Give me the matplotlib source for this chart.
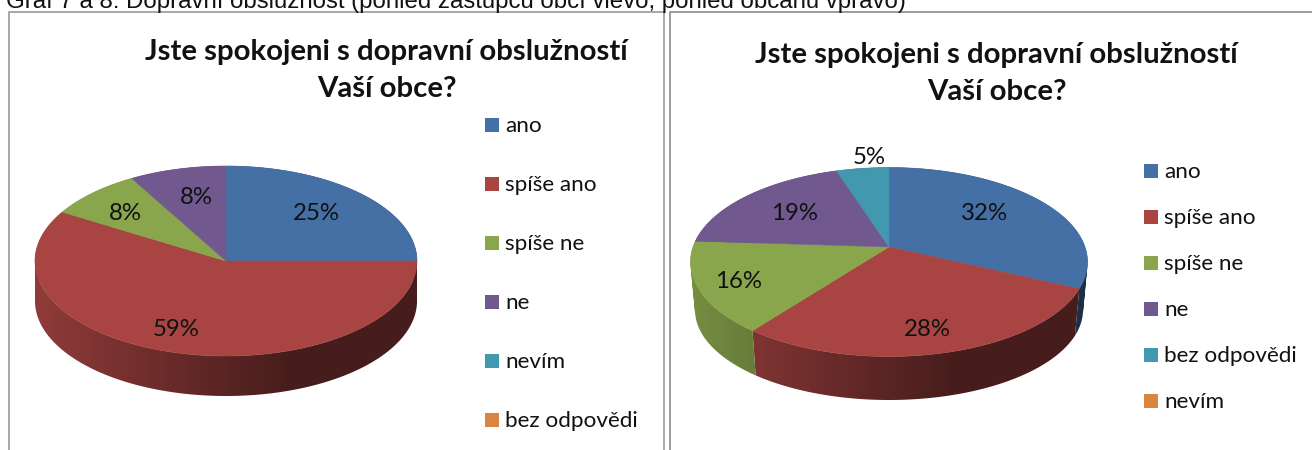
import numpy as np
import matplotlib
matplotlib.use('Agg')
import matplotlib.pyplot as plt
from matplotlib.colors import to_rgb
from matplotlib.patches import PathPatch
from matplotlib.path import Path

caption = 'Graf 7 a 8: Dopravní obslužnost (pohled zástupců obcí vlevo, pohled občanů vpravo)'
title = 'Jste spokojeni s dopravní obslužností\nVaší obce?'

left_labels = ['ano', 'spíše ano', 'spíše ne', 'ne', 'nevím', 'bez odpovědi']
left_values = [25, 58.6, 8.2, 8.2, 0, 0]
right_labels = ['ano', 'spíše ano', 'spíše ne', 'ne', 'bez odpovědi', 'nevím']
right_values = [32, 28.4, 15.6, 19, 5, 0]

left_colors = ['#4570A6', '#A84543', '#89A64C', '#71588F', '#4198AF', '#DB843D']
right_colors = ['#4570A6', '#A84543', '#89A64C', '#71588F', '#4198AF', '#DB843D']

plt.rcParams['font.family'] = ['Lato', 'DejaVu Sans']


# c moves the middle of the pie away from the middle of the ellipse (perspective)
def rim(t, cx, cy, rx, ry, c=0.0):
    u = np.sin(t)
    v = np.cos(t)
    d = 1 + c * v
    return cx + rx * u * np.sqrt(1 - c * c) / d, cy - ry * (v + c) / d


def side_shades(color, us):
    # side gets darker going right, flat from a bit past the middle
    f = np.interp(us, [-1, 0.33, 1], [0.86, 0.42, 0.42])
    return np.outer(f, np.array(to_rgb(color)))


def wall_path(xs, ys, xb, yb):
    # one quad per step, all turned the same way so overlaps do not cancel
    verts = []
    codes = []
    for j in range(len(xs) - 1):
        q = [(xs[j], ys[j]), (xs[j + 1], ys[j + 1]), (xb[j + 1], yb[j + 1]), (xb[j], yb[j])]
        area = sum(q[k][0] * q[(k + 1) % 4][1] - q[(k + 1) % 4][0] * q[k][1] for k in range(4))
        if area < 0:
            q = q[::-1]
        verts += q + [q[0]]
        codes += [Path.MOVETO, Path.LINETO, Path.LINETO, Path.LINETO, Path.CLOSEPOLY]
    return Path(verts, codes)


def draw_pie(ax, values, colors, cx, cy, rx, ry, c, bcy, brx, bry, labels_at):
    edges = 2 * np.pi * np.cumsum([0] + values) / sum(values)

    # walls first
    for i in range(len(values)):
        if values[i] == 0:
            continue
        ts = np.linspace(edges[i], edges[i + 1], 200)
        xs, ys = rim(ts, cx, cy, rx, ry, c)
        xb, yb = rim(ts, cx, bcy, brx, bry, c)
        patch = PathPatch(wall_path(xs, ys, xb, yb), fc='none', ec='none', transform=ax.transData)
        ax.add_patch(patch)
        px = np.linspace(cx - rx, cx + rx, 400)
        grad = side_shades(colors[i], (px - cx) / rx)[np.newaxis, :, :]
        im = ax.imshow(grad, extent=[cx - rx - 2, cx + rx + 2, bcy + bry + 3, cy - ry - 3],
                       aspect='auto', interpolation='bilinear', zorder=2)
        im.set_clip_path(patch)

    # top of the pie
    ay0 = cy - ry * c
    for i in range(len(values)):
        if values[i] == 0:
            continue
        ts = np.linspace(edges[i], edges[i + 1], 200)
        xs, ys = rim(ts, cx, cy, rx, ry, c)
        ax.fill(np.r_[cx, xs], np.r_[ay0, ys], color=colors[i], lw=0.4, zorder=3)

    for i in range(len(values)):
        if values[i] == 0:
            continue
        ax.text(labels_at[i][0], labels_at[i][1], '%.0f%%' % values[i], fontsize=17.3,
                ha='center', va='center', color='#111111', zorder=5)


def draw_legend(ax, labels, colors, x, y, step):
    for i, lab in enumerate(labels):
        ax.fill([x, x + 14, x + 14, x], [y + i * step, y + i * step, y + i * step + 14, y + i * step + 14],
                color=colors[i], lw=0, zorder=3)
        ax.text(x + 20, y + i * step + 8, lab, fontsize=16.2, va='center', ha='left', color='#111111')


fig = plt.figure(figsize=(13.12, 4.5), dpi=100)
ax = fig.add_axes([0, 0, 1, 1])
ax.axis('off')

ax.text(6, 8, caption, fontsize=17.26, family='Liberation Sans', color='#111111', va='baseline', ha='left')

# chart frames
ax.plot([8.5, 8.5, 664, 664], [450, 11.5, 11.5, 450], color='#9a9a9a', lw=1.2)
ax.plot([670, 670, 1312], [450, 12, 12], color='#8a8a8a', lw=1.2)

ax.text(386.5, 70.5, title, fontsize=21.2, fontweight='bold', ha='center', va='center',
        color='#111111', linespacing=1.5)
ax.text(996.5, 73.5, title, fontsize=21.2, fontweight='bold', ha='center', va='center',
        color='#111111', linespacing=1.5)

draw_pie(ax, left_values, left_colors, 226, 261, 191, 95, 0.0, 301, 191, 95,
         [(316, 214), (176, 329), (125, 214), (196, 198)])
draw_pie(ax, right_values, right_colors, 889, 262, 198.5, 94.5, 0.16, 310, 194, 90,
         [(985, 214), (927, 330), (739, 282), (795, 214), (869, 158)])

draw_legend(ax, left_labels, left_colors, 485, 118, 59)
draw_legend(ax, right_labels, right_colors, 1144, 164, 46)

ax.set_xlim(0, 1312)
ax.set_ylim(450, 0)

fig.savefig('out.png', dpi=100)
